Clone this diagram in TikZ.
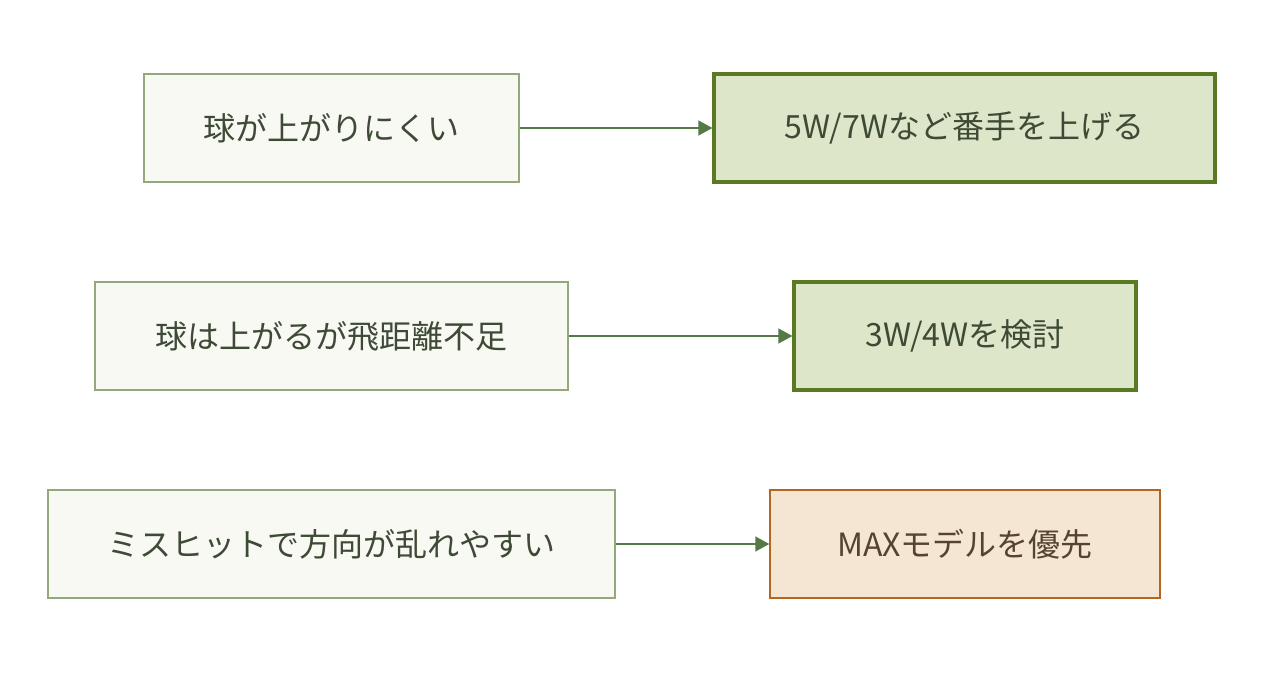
\documentclass[tikz,border=0pt]{standalone}
\usepackage{fontspec}
\newfontfamily\jpfont{Noto Sans CJK JP}
\usetikzlibrary{arrows.meta}

\definecolor{causefill}{HTML}{F8F9F3}
\definecolor{causeline}{HTML}{93A87C}
\definecolor{causetext}{HTML}{3D4A35}
\definecolor{clubfill}{HTML}{DDE6C8}
\definecolor{clubline}{HTML}{5A7A22}
\definecolor{maxfill}{HTML}{F5E6D3}
\definecolor{maxline}{HTML}{B5651D}
\definecolor{maxtext}{HTML}{56432F}
\definecolor{flowline}{HTML}{557A46}

\tikzset{%
          every issue/.style={
            rectangle,
            draw=causeline,
            fill=causefill,
            line width=1.5pt,
            text=causetext,
            minimum height=108pt,
            inner sep=0pt,
            font=\jpfont\fontsize{32}{38}\selectfont
          },
          club pick/.style={
            every issue,
            draw=clubline,
            fill=clubfill,
            line width=3.2pt
          },
          max pick/.style={
            every issue,
            draw=maxline,
            fill=maxfill,
            text=maxtext
          },
        }

\begin{document}
\begin{tikzpicture}[x=1pt, y=-1pt, >={Triangle[length=14pt,width=15pt]}]
        \useasboundingbox (0,0) rectangle (1262,676);

        \node [every issue, minimum width=375pt] (issue-high) at (331.5,128) {球が上がりにくい};
        \node [every issue, minimum width=473pt] (issue-dist) at (331.5,336) {球は上がるが飛距離不足};
        \node [every issue, minimum width=567pt] (issue-miss) at (331.5,544) {ミスヒットで方向が乱れやすい};

        \node [club pick, minimum width=501pt] (pick-wood) at (964.5,128) {5W/7Wなど番手を上げる};
        \node [club pick, minimum width=342pt] (pick-3w) at (965,336) {3W/4Wを検討};
        \node [max pick, minimum width=390pt] (pick-max) at (965,544) {MAXモデルを優先};

        \path [draw, ->, flowline, line width=1.5pt] (issue-high) -- (pick-wood);
        \path [draw, ->, flowline, line width=1.5pt] (issue-dist) -- (pick-3w);
        \path [draw, ->, flowline, line width=1.5pt] (issue-miss) -- (pick-max);

        \end{tikzpicture}
\end{document}
